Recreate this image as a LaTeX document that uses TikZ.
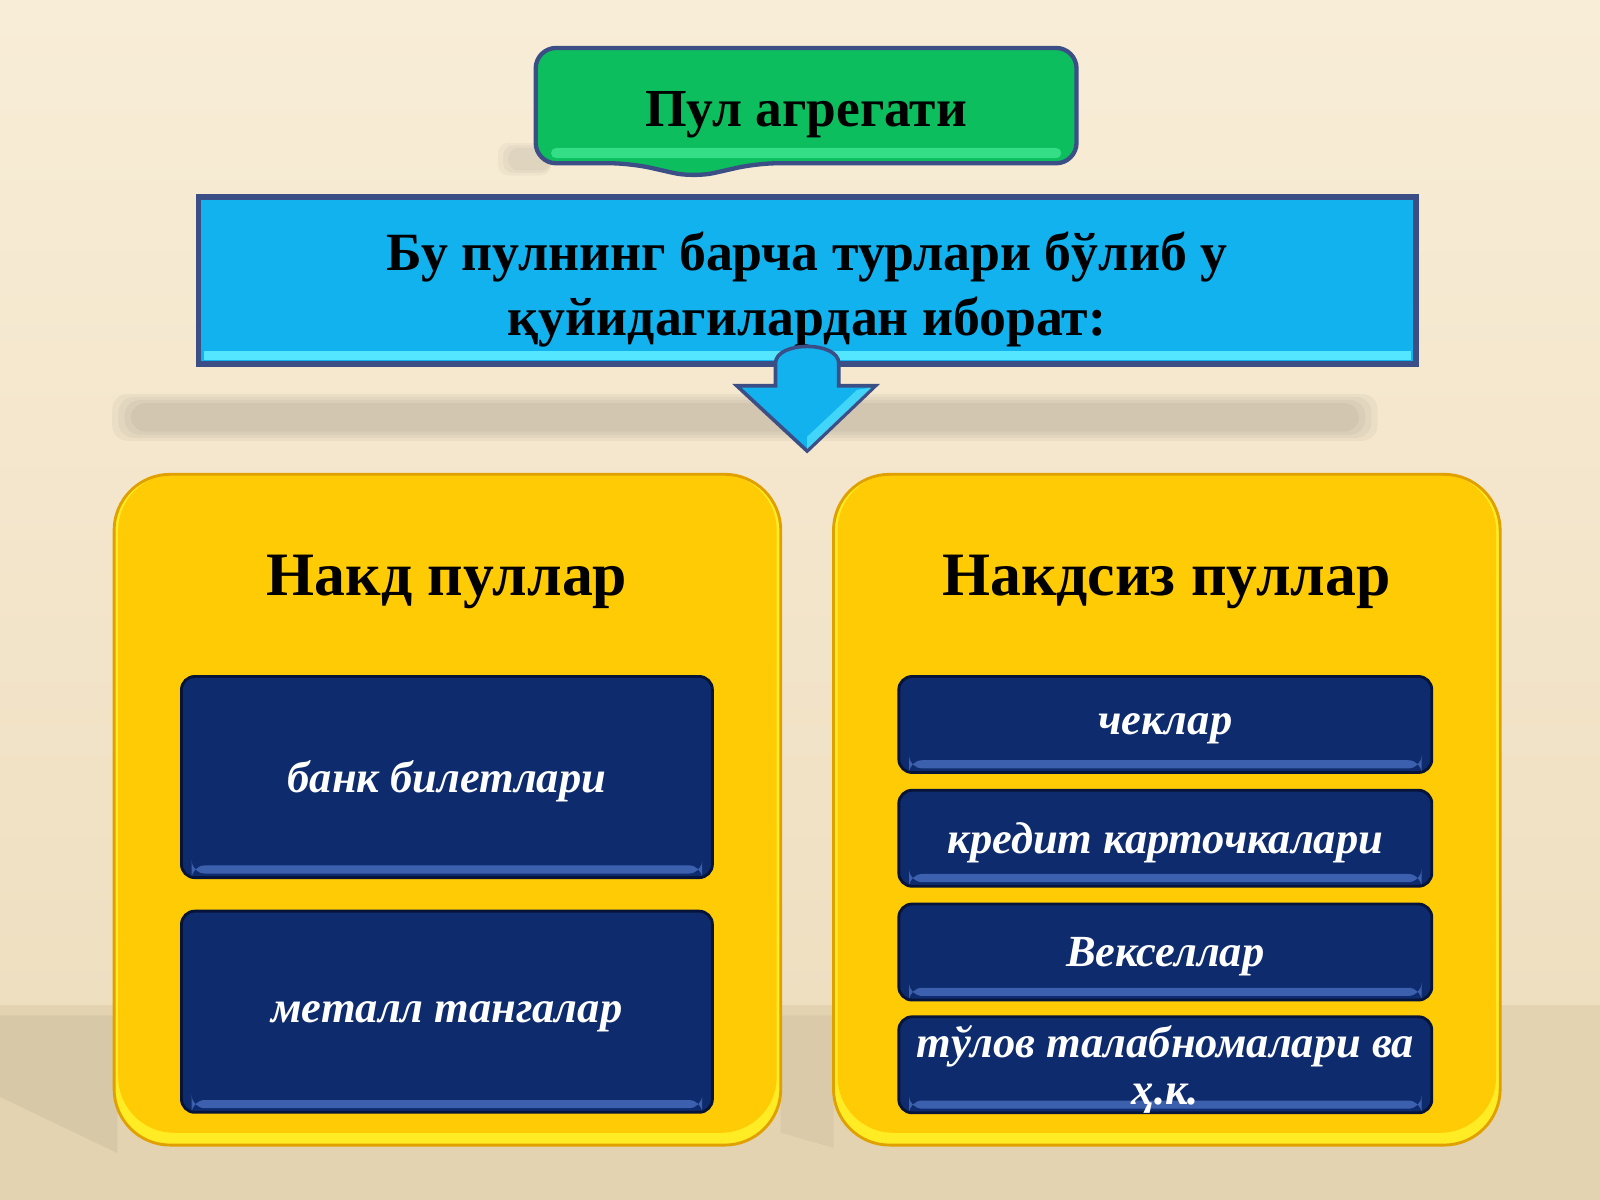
\documentclass[tikz,border=0pt]{standalone}
\usepackage{fontspec}
\setmainfont{Liberation Serif}
\usepackage{tikz}

\definecolor{bgtop}{HTML}{F8EDD7}
\definecolor{bgbot}{HTML}{EFDFC1}
\definecolor{floorcol}{HTML}{E3D3B1}
\definecolor{edgecol}{HTML}{3B4F86}
\definecolor{greenfill}{HTML}{0CBE5E}
\definecolor{greenhi}{HTML}{45EC98}
\definecolor{bluefill}{HTML}{12B2EE}
\definecolor{bluehi}{HTML}{55E6FF}
\definecolor{goldfill}{HTML}{FFCB05}
\definecolor{goldedge}{HTML}{E0A000}
\definecolor{goldhi}{HTML}{FFEC24}
\definecolor{navyfill}{HTML}{0E2B6D}
\definecolor{navyedge}{HTML}{07143A}
\definecolor{navyhi}{HTML}{3D60AE}

\begin{document}
\begin{tikzpicture}[x=0.01cm, y=-0.01cm,
    goldbox/.style={draw=goldedge, line width=0.8pt, fill=goldhi,
        rounded corners=0.55cm, minimum width=6.53cm, minimum height=6.57cm,
        path picture={\fill[goldfill, rounded corners=0.55cm]
            ([shift={(0.04cm,0.12cm)}]path picture bounding box.south west)
            rectangle ([xshift=-0.04cm]path picture bounding box.north east);}},
    navybox/.style={draw=navyedge, line width=0.8pt, fill=navyfill,
        rounded corners=0.13cm, text=white, align=center, inner sep=0pt,
        text depth=0pt,
        font=\fontsize{12.4}{13.2}\selectfont\bfseries\itshape,
        path picture={\fill[navyhi]
            ([shift={(0.1cm,0.04cm)}]path picture bounding box.south west)
            rectangle ([shift={(-0.1cm,0.12cm)}]path picture bounding box.south east);}},
    headtext/.style={font=\fontsize{17.2}{20}\selectfont\bfseries, text=black}]
    \useasboundingbox (0,0) rectangle (1568,1176);

    % background and floor
    \shade[top color=bgtop, bottom color=bgbot] (0,0) rectangle (1568,985);
    \fill[floorcol] (0,985) rectangle (1568,1176);
    \fill[black, opacity=0.05] (0,995) -- (115,995) -- (115,1130) -- (0,1075) -- cycle;
    \fill[black, opacity=0.04] (765,995) -- (817,995) -- (817,1125) -- (765,1110) -- cycle;

    % shadows
    \foreach \d in {0,6,12,18}
        \fill[black, opacity=0.035, rounded corners=0.15cm] (110+\d,386+\d/2) rectangle (1350-\d,432-\d/2);
    \foreach \d in {0,5,10}
        \fill[black, opacity=0.03, rounded corners=0.1cm] (488+\d,140+\d/2) rectangle (540,172-\d/2);

    % title box
    \draw[edgecol, line width=1.2pt, fill=greenfill, rounded corners=0.2cm]
        (525,100) -- (525,47) -- (1055,47) -- (1055,160) -- (742,160)
        -- (680,174) -- (618,160) -- (525,160) -- cycle;
    \fill[greenhi, opacity=0.7, rounded corners=0.05cm] (540,145) rectangle (1040,155);
    \node[font=\fontsize{14.9}{16}\selectfont\bfseries, text=black] (title) at (790,112) {Пул агрегати};

    % blue box
    \node[draw=edgecol, line width=1.6pt, fill=bluefill, minimum width=11.92cm,
        minimum height=1.64cm,
        path picture={\fill[bluehi]
            ([shift={(0.05cm,0.04cm)}]path picture bounding box.south west)
            rectangle ([shift={(-0.05cm,0.13cm)}]path picture bounding box.south east);}]
        (bluebox) at (791,275) {};
    \node[font=\fontsize{15}{18.2}\selectfont\bfseries, text=black, align=center] (bluetext) at (791,284)
        {Бу пулнинг барча турлари бўлиб у\\ қуйидагилардан иборат:};

    % down arrow
    \draw[edgecol, line width=1pt, fill=bluefill]
        (760,378) -- (760,356) .. controls (760,334) and (822,334) .. (822,356)
        -- (822,378) -- (858,378) -- (791,442) -- (722,378) -- cycle;
    \fill[bluehi, opacity=0.7] (791,440) -- (854,380) -- (840,382) -- (791,428) -- cycle;

    % two groups
    \node[goldbox] (cash) at (438.5,793.5) {};
    \node[goldbox] (noncash) at (1143.5,793.5) {};
    \node[headtext] (cashtitle) at (438,570) {Накд пуллар};
    \node[headtext] (noncashtitle) at (1143,570) {Накдсиз пуллар};

    \node[navybox, minimum width=5.2cm, minimum height=1.97cm] (banknotes) at (438,761.5) {банк билетлари};
    \node[navybox, minimum width=5.2cm, minimum height=1.97cm] (coins) at (438,991.5) {металл тангалар};

    \node[navybox, minimum width=5.22cm, minimum height=0.94cm] (cheques) at (1142,710) {чеклар};
    \node[navybox, minimum width=5.22cm, minimum height=0.94cm] (cards) at (1142,821.5) {кредит карточкалари};
    \node[navybox, minimum width=5.22cm, minimum height=0.94cm] (bills) at (1142,933) {Векселлар};
    \node[navybox, minimum width=5.22cm, minimum height=0.94cm] (claims) at (1142,1043.5) {тўлов талабномалари ва\\ ҳ.к.};
\end{tikzpicture}
\end{document}
